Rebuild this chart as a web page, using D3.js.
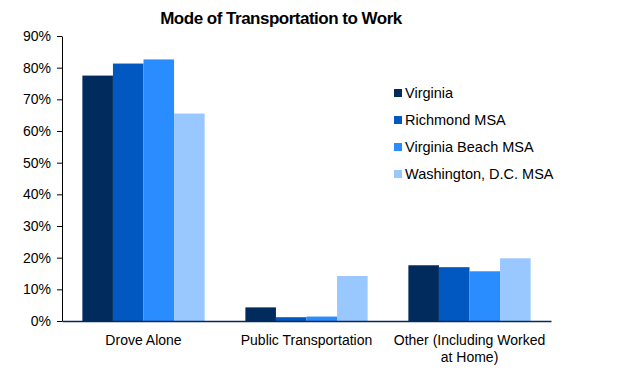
<!DOCTYPE html>
<html lang="en">
<head>
  <meta charset="utf-8">
  <title>Mode of Transportation to Work</title>
  <script src="https://d3js.org/d3.v7.min.js"></script>
  <style>
    body { margin: 0; background: #fff; }
    text { font-family: "Liberation Sans", Arial, sans-serif; fill: #000; }
  </style>
</head>
<body>
  <script>
    var categories = ['Drove Alone', 'Public Transportation', 'Other (Including Worked at Home)'];
    var series = ['Virginia', 'Richmond MSA', 'Virginia Beach MSA', 'Washington, D.C. MSA'];
    var colors = ['#002b5c', '#0058c0', '#2a8dff', '#99c7ff'];
    // percent, per series, in category order
    var virginia = [77.5, 4.3, 17.6];
    var richmond = [81.3, 1.2, 17.0];
    var vaBeach = [82.6, 1.4, 15.7];
    var washington = [65.5, 14.2, 19.8];
    var yTicks = [0, 10, 20, 30, 40, 50, 60, 70, 80, 90];

    var values = [virginia, richmond, vaBeach, washington];
    var w = 619, h = 377;
    var margin = {top: 36, right: 68, bottom: 56, left: 62};
    var innerW = w - margin.left - margin.right,
      innerH = h - margin.top - margin.bottom;

    var x = d3.scaleBand()
      .domain(categories)
      .range([0, innerW])
      .paddingInner(0.25)
      .paddingOuter(0.125);
    var xs = d3.scaleBand()
      .domain(series)
      .range([0, x.bandwidth()]);
    var y = d3.scaleLinear()
      .domain([0, 90])
      .range([innerH, 0]);

    var svg = d3.select('body').append('svg')
      .attr('width', w)
      .attr('height', h);

    svg.append('text')
      .attr('x', 281)
      .attr('y', 24)
      .attr('text-anchor', 'middle')
      .style('font-size', '17px')
      .style('font-weight', 'bold')
      .style('letter-spacing', '-0.5px')
      .text('Mode of Transportation to Work');

    var g = svg.append('g')
      .attr('transform', 'translate(' + [margin.left, margin.top] + ')');

    var groups = g.selectAll('.series')
      .data(series)
      .enter().append('g')
      .attr('class', 'series')
      .attr('fill', function(d, i) { return colors[i]; });

    groups.selectAll('rect')
      .data(function(d, i) {
        return categories.map(function(c, j) { return {cat: c, s: d, v: values[i][j]}; });
      })
      .enter().append('rect')
      .attr('x', function(d) { return x(d.cat) + xs(d.s); })
      .attr('width', xs.bandwidth())
      .attr('y', function(d) { return y(d.v); })
      .attr('height', function(d) { return y(0) - y(d.v); });

    var yAxis = d3.axisLeft(y)
      .tickValues(yTicks)
      .tickSize(5)
      .tickSizeOuter(0)
      .tickPadding(6)
      .tickFormat(function(d) { return d + '%'; });
    var ya = g.append('g').attr('class', 'y axis').call(yAxis);
    ya.select('.domain').attr('stroke', '#000');
    ya.selectAll('line').attr('stroke', '#000');
    ya.selectAll('text').style('font-size', '14px').style('font-family', '"Liberation Sans", Arial, sans-serif').attr('fill', '#000');

    var xAxis = d3.axisBottom(x).tickSize(0).tickSizeOuter(0).tickPadding(14);
    var xa = g.append('g')
      .attr('class', 'x axis')
      .attr('transform', 'translate(0,' + innerH + ')')
      .call(xAxis);
    xa.select('.domain').attr('stroke', '#002b5c').attr('stroke-width', 1.5);
    xa.selectAll('text')
      .style('font-size', '14px')
      .style('font-family', '"Liberation Sans", Arial, sans-serif')
      .attr('fill', '#000')
      .each(function(d) {
        var t = d3.select(this);
        if (d.indexOf('(') > 0) {
          t.text(null);
          t.append('tspan').attr('x', 0).text('Other (Including Worked');
          t.append('tspan').attr('x', 0).attr('dy', '1.2em').text('at Home)');
        }
      });

    var legend = svg.append('g')
      .attr('transform', 'translate(394,93)');
    var li = legend.selectAll('.item')
      .data(series)
      .enter().append('g')
      .attr('class', 'item')
      .attr('transform', function(d, i) { return 'translate(0,' + i * 27 + ')'; });
    li.append('rect')
      .attr('x', 0).attr('y', -4)
      .attr('width', 8).attr('height', 8)
      .attr('fill', function(d, i) { return colors[i]; });
    li.append('text')
      .attr('x', 11)
      .attr('y', 5)
      .style('font-size', '14.5px')
      .text(function(d) { return d; });
  </script>
</body>
</html>
